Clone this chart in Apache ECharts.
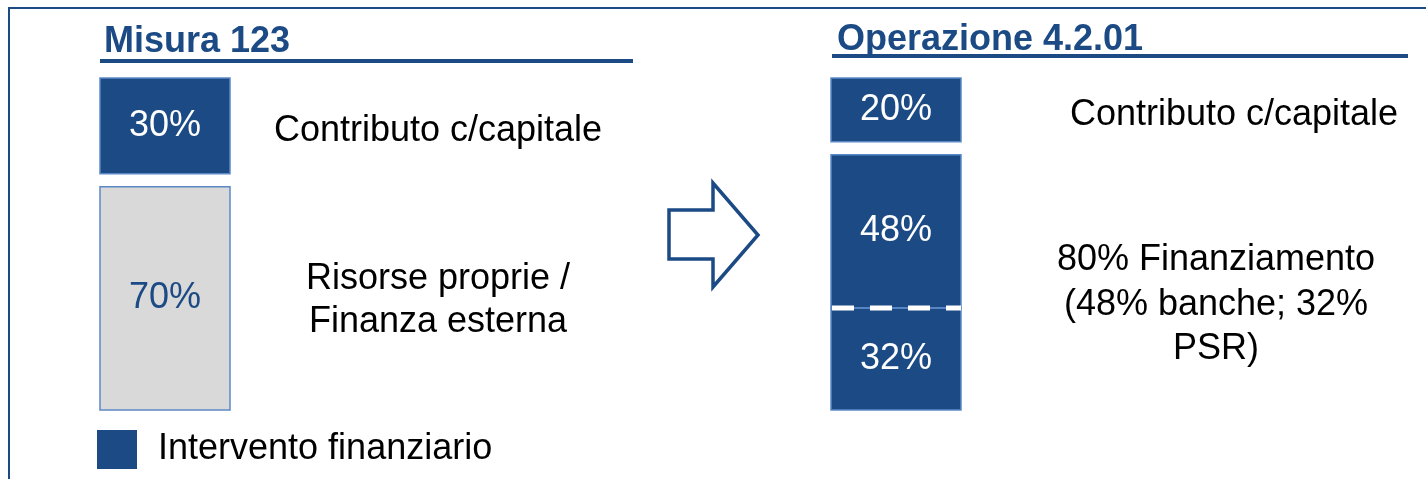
<!DOCTYPE html>
<html lang="it">
<head>
    <meta charset="UTF-8">
    <title>Misura 123 / Operazione 4.2.01</title>
    <style>
        html,body{margin:0;padding:0;background:#fff;}
        #mychart{width:1426px;height:479px;}
    </style>
</head>
<body>
    <div id="mychart"></div>
    <script src="https://cdn.jsdelivr.net/npm/echarts@6/dist/echarts.min.js"></script>
    <script>
        // dati
        var panelTitles=['Misura 123','Operazione 4.2.01']
        var leftValues=[30,70]          // quote % Misura 123
        var leftBlocks=[0,1]            // blocco in cui sta ogni quota
        var leftFinanced=[1,0]          // 1 = intervento finanziario
        var rightValues=[20,48,32]      // quote % Operazione 4.2.01
        var rightBlocks=[0,1,1]
        var rightFinanced=[1,1,1]
        var leftNotes=[['Contributo c/capitale'],['Risorse proprie /','Finanza esterna']]
        var rightNotes=[['Contributo c/capitale'],['80% Finanziamento','(48% banche; 32%','PSR)']]
        var legendName='Intervento finanziario'

        var BLUE='#1b4a84'
        var GRAY='#d9d9d9'
        var EDGE='#5b89c6'
        var GAP=13//spazio tra i blocchi in pixel
        var FONT='"Liberation Sans", Arial, sans-serif'

        function buildData(values,blocks,fin){
            var acc=0
            return values.map(function(v,i){
                var s=acc
                acc+=v
                var joined=(i>0&&blocks[i-1]==blocks[i])?1:0
                return [0,s,acc,blocks[i],fin[i],v,joined]
            })
        }

        function renderItem(params,api){
            var s=api.value(1),e=api.value(2),blk=api.value(3),fin=api.value(4),v=api.value(5),joined=api.value(6)
            var p0=api.coord([0,s])
            var p1=api.coord([0,e])
            var bw=api.size([1,0])[0]
            var x=Math.round(p0[0]-bw/2)
            var y0=p0[1]+blk*GAP
            var y1=p1[1]+blk*GAP
            var children=[
                {type:'rect',shape:{x:x,y:y0,width:bw,height:y1-y0},
                 style:{fill:fin?BLUE:GRAY,stroke:EDGE,lineWidth:1.5}},
                {type:'text',style:{text:v+'%',x:x+bw/2,y:(y0+y1)/2,textAlign:'center',textVerticalAlign:'middle',
                 font:'36px '+FONT,fill:fin?'#ffffff':BLUE}}
            ]
            if(joined){//linea tratteggiata tra quote dello stesso blocco
                children.push({type:'line',shape:{x1:x,y1:y0,x2:x+bw,y2:y0},style:{stroke:EDGE,lineWidth:1.5}})
                children.push({type:'line',shape:{x1:x+1,y1:y0,x2:x+bw,y2:y0},
                    style:{stroke:'#ffffff',lineWidth:5,lineDash:[22,16]}})
            }
            return {type:'group',children:children}
        }

        function noteText(lines,cx,cy,lh){
            return {type:'text',x:cx,y:cy,style:{text:lines.join('\n'),textAlign:'center',textVerticalAlign:'middle',
                font:'36px '+FONT,fill:'#000',lineHeight:lh}}
        }

        var myChart=echarts.init(document.getElementById('mychart'))
        var hidden={show:false}
        var option={
            animation:false,
            legend:{
                data:[legendName],
                left:97,top:430,
                padding:0,
                itemWidth:40,itemHeight:39,
                icon:'rect',
                selectedMode:false,
                textStyle:{fontSize:36,fontFamily:FONT,color:'#000',padding:[12,0,0,16]}
            },
            grid:[
                {left:100,top:78,width:130,height:319},
                {left:831,top:78,width:130,height:319}
            ],
            xAxis:[
                {type:'category',gridIndex:0,data:[panelTitles[0]],show:false},
                {type:'category',gridIndex:1,data:[panelTitles[1]],show:false}
            ],
            yAxis:[
                {type:'value',gridIndex:0,min:0,max:100,inverse:true,show:false,splitLine:hidden},
                {type:'value',gridIndex:1,min:0,max:100,inverse:true,show:false,splitLine:hidden}
            ],
            series:[
                {name:legendName,type:'custom',xAxisIndex:0,yAxisIndex:0,itemStyle:{color:BLUE},
                 renderItem:renderItem,data:buildData(leftValues,leftBlocks,leftFinanced)},
                {name:legendName,type:'custom',xAxisIndex:1,yAxisIndex:1,itemStyle:{color:BLUE},
                 renderItem:renderItem,data:buildData(rightValues,rightBlocks,rightFinanced)}
            ],
            graphic:[
                //cornice
                {type:'line',shape:{x1:8,y1:8,x2:1426,y2:8},style:{stroke:BLUE,lineWidth:2}},
                {type:'line',shape:{x1:9,y1:8,x2:9,y2:479},style:{stroke:BLUE,lineWidth:2}},
                //titoli
                {type:'text',x:104,y:42,style:{text:panelTitles[0],textVerticalAlign:'middle',font:'bold 36px '+FONT,fill:BLUE}},
                {type:'rect',shape:{x:100,y:59,width:533,height:4},style:{fill:BLUE}},
                {type:'text',x:837,y:40,style:{text:panelTitles[1],textVerticalAlign:'middle',font:'bold 36px '+FONT,fill:BLUE}},
                {type:'rect',shape:{x:832,y:54,width:576,height:4},style:{fill:BLUE}},
                //freccia
                {type:'polygon',shape:{points:[[669,210],[713,210],[713,183],[758,235],[713,287],[713,259],[669,259]]},
                 style:{fill:'#fff',stroke:BLUE,lineWidth:3.5}},
                //note
                noteText(leftNotes[0],438,131,43),
                noteText(leftNotes[1],438,301,43),
                noteText(rightNotes[0],1234,115,44),
                noteText(rightNotes[1],1216,305,44.5)
            ]
        }
        myChart.setOption(option)
    </script>
</body>
</html>
